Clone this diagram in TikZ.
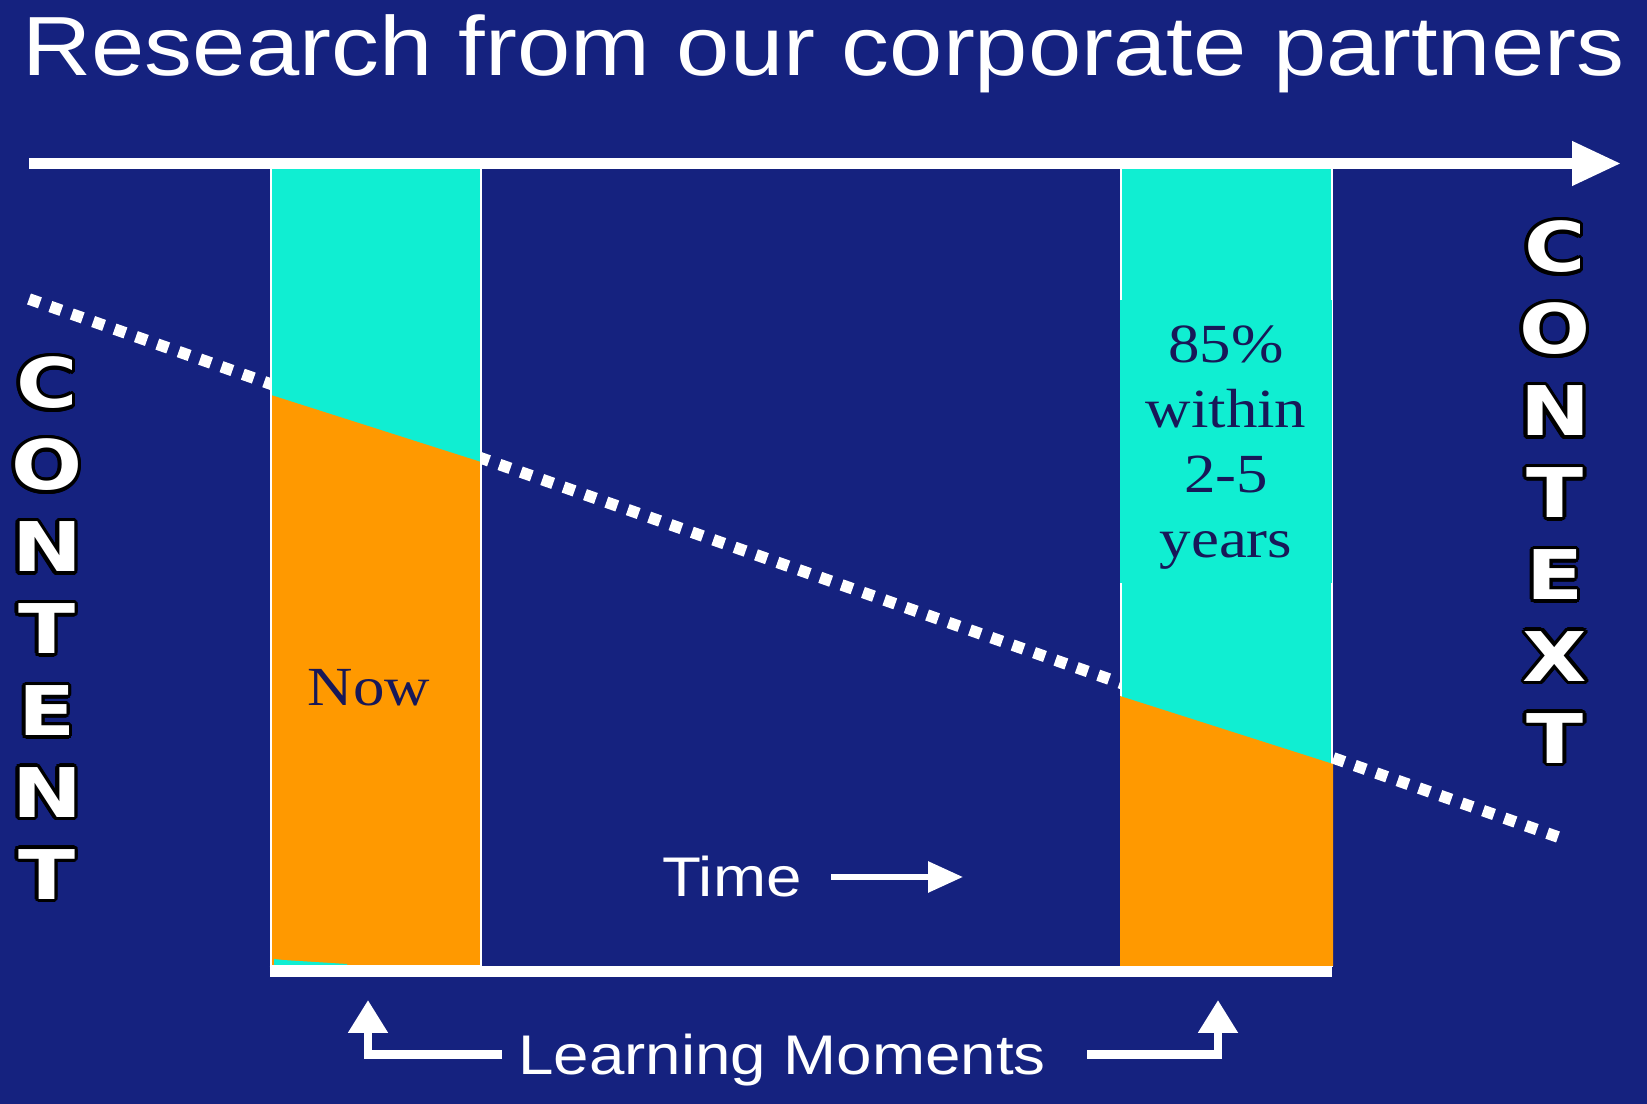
\documentclass[tikz,border=0pt]{standalone}
\usepackage{fontspec}
\usepackage{contour}
\usetikzlibrary{arrows.meta}

\setmainfont{Liberation Serif}[FakeStretch=1.14]
\newfontfamily\slidesans{Liberation Sans}[FakeStretch=1.14]
\newfontfamily\blocksans{DejaVu Sans Bold}[FakeStretch=1.22]

\definecolor{slidebg}{RGB}{21,34,127}
\definecolor{aqua}{RGB}{16,238,210}
\definecolor{amber}{RGB}{255,153,0}
\definecolor{inkblue}{RGB}{24,24,88}

\contourlength{1pt}
\newcommand{\outl}[1]{\contour{black}{#1}}

\begin{document}
\begin{tikzpicture}[x=1cm, y=-1cm,
    lmarrow/.style={white, line width=2.5pt, line join=miter, -{Triangle[length=0.33cm,width=0.38cm]}}]

    \useasboundingbox (0,0) rectangle (16.47,11.04);

    % Slide background
    \fill[slidebg] (0,0) rectangle (16.47,11.04);

    % Title
    \node[anchor=base, text=white, font=\slidesans\fontsize{23.9}{28}\selectfont] (title) at (8.235,0.76)
        {Research from our corporate partners};

    % Dotted trend line, the bars go over it
    \draw[white, line width=3.3pt, dash pattern=on 3.3pt off 3.15pt] (0.29,2.99) -- (15.58,8.37);

    % Left bar
    \fill[aqua] (2.71,1.66) rectangle (4.81,9.66);
    \fill[amber] (2.71,3.95) -- (4.81,4.62) -- (4.81,9.66) -- (2.71,9.66) -- cycle;
    \fill[aqua] (2.74,9.59) -- (2.83,9.60) -- (3.47,9.64) -- (3.47,9.66) -- (2.74,9.66) -- cycle;
    \draw[white, line width=0.6pt] (2.71,1.66) rectangle (4.81,9.66);

    % Right bar
    \fill[aqua] (11.21,1.66) rectangle (13.32,9.66);
    \draw[white, line width=0.6pt] (11.21,1.66) rectangle (13.32,9.66);
    \fill[amber] (11.20,6.96) -- (13.33,7.64) -- (13.33,9.66) -- (11.20,9.66) -- cycle;
    \fill[aqua] (11.20,3.00) rectangle (13.32,5.83);

    % Time axis on top, base line below
    \draw[white, line width=3pt, -{Triangle[length=0.49cm,width=0.42cm]}] (0.29,1.635) -- (16.21,1.635);
    \draw[white, line width=3.1pt] (2.695,9.715) -- (13.32,9.715);

    % Bar labels
    \node[anchor=base, text=inkblue, font=\fontsize{15.7}{18.5}\selectfont] (now) at (3.69,7.06) {Now};
    \node[text=inkblue, align=center, inner sep=0pt,
        font=\fontsize{15.7}{18.5}\selectfont] (share) at (12.26,4.48) {85\%\\within\\2-5\\years};

    % Time arrow
    \node[anchor=base, text=white, font=\slidesans\fontsize{15.9}{19}\selectfont] (time) at (7.32,8.97) {Time};
    \coordinate (timetip) at (9.63,8.77);
    \draw[white, line width=1.7pt, -{Triangle[length=0.35cm,width=0.30cm]}, shorten <=0.17cm] (time.east) -- (timetip);

    % Learning moments
    \node[anchor=base, text=white, font=\slidesans\fontsize{15.9}{19}\selectfont] (moments) at (7.82,10.75) {Learning Moments};
    \coordinate (momleft) at (3.68,10.00);
    \coordinate (momright) at (12.18,10.00);
    \draw[lmarrow, shorten <=0.04cm] ([yshift=0.06cm]moments.west) -| (momleft);
    \draw[lmarrow, shorten <=0.29cm] ([yshift=0.06cm]moments.east) -| (momright);

    % Side words
    \node[text=white, align=center, font=\blocksans\fontsize{19.5}{23.3}\selectfont] (content) at (0.47,6.30)
        {\outl{C}\\\outl{O}\\\outl{N}\\\outl{T}\\\outl{E}\\\outl{N}\\\outl{T}};
    \node[text=white, align=center, font=\blocksans\fontsize{19.5}{23.3}\selectfont] (context) at (15.55,4.94)
        {\outl{C}\\\outl{O}\\\outl{N}\\\outl{T}\\\outl{E}\\\outl{X}\\\outl{T}};

\end{tikzpicture}
\end{document}
